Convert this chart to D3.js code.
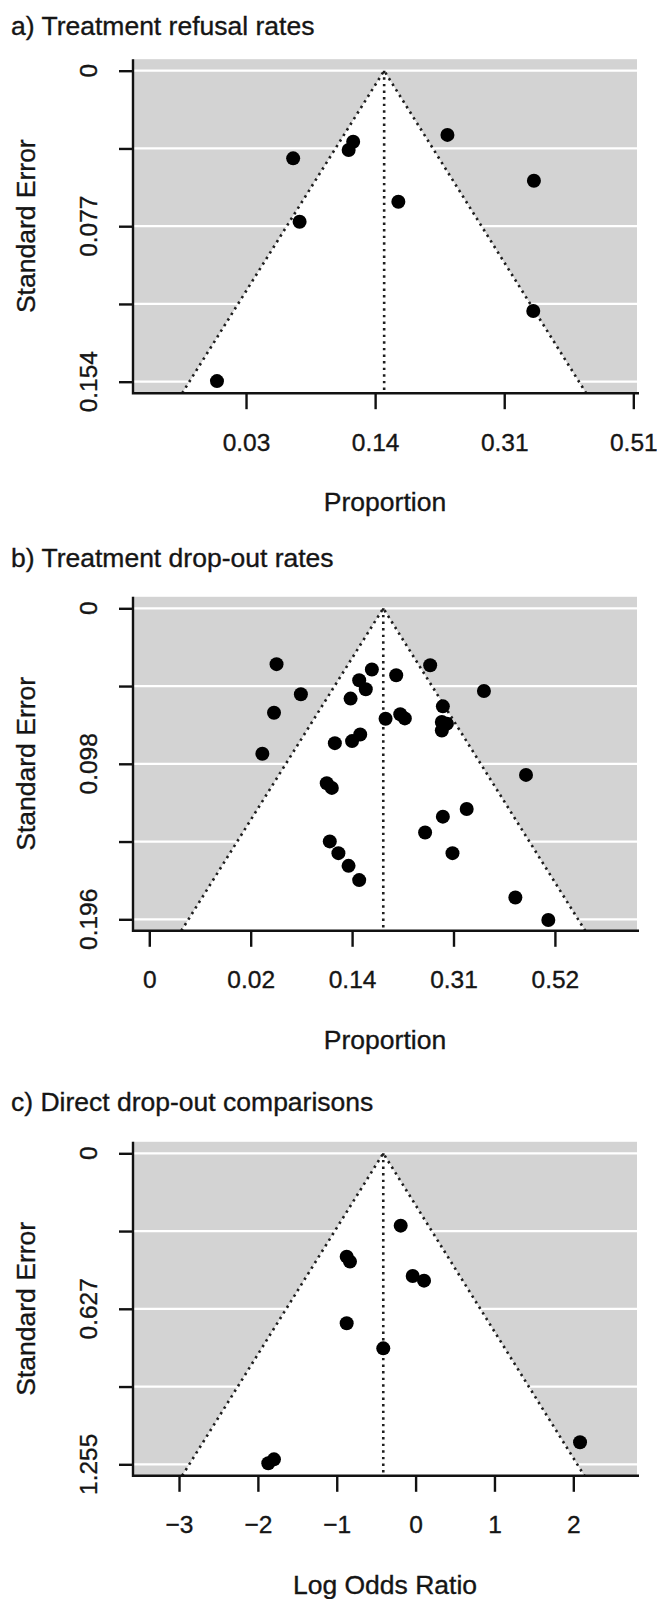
<!DOCTYPE html>
<html>
<head>
<meta charset="utf-8">
<script src="https://cdn.jsdelivr.net/npm/d3@7/dist/d3.min.js"></script>
<style>
  body { margin: 0; background: #fff; }
  svg text {
    font-family: "Liberation Sans", Arial, Helvetica, sans-serif;
    fill: #151515; stroke: #151515; stroke-width: 0.35px;
  }
</style>
</head>
<body>
<svg id="SVGfunnel" width="657" height="1599"></svg>
<script>
// a) treatment refusal: arcsine-transformed proportions and their standard errors
const refusalEffect = [0.273, 0.366, 0.359, 0.283, 0.155, 0.512, 0.646, 0.436, 0.645];
const refusalSE = [0.0434, 0.0352, 0.0393, 0.0748, 0.1537, 0.0318, 0.0545, 0.0649, 0.1190];
const refusalPooled = 0.414;
const refusalTicks = [0.2, 0.4, 0.6, 0.8];
const refusalTickLabels = ["0.03", "0.14", "0.31", "0.51"];
const refusalSELabels = ["0", "0.077", "0.154"];

// b) treatment drop-out: arcsine-transformed proportions and their standard errors
const dropoutEffect = [
    0.251, 0.299, 0.246, 0.223, 0.439, 0.414, 0.427, 0.397, 0.466, 0.366, 0.400,
    0.416, 0.350, 0.360, 0.356, 0.373, 0.393, 0.414, 0.487, 0.495, 0.504, 0.554,
    0.660, 0.579, 0.577, 0.587, 0.577, 0.743, 0.626, 0.579, 0.544, 0.598, 0.722, 0.787
];
const dropoutSE = [
    0.0352, 0.0542, 0.0658, 0.0917, 0.0386, 0.0453, 0.0510, 0.0569, 0.0696, 0.0850, 0.0837,
    0.0795, 0.1103, 0.1132, 0.1469, 0.1543, 0.1623, 0.1713, 0.0422, 0.0668, 0.0694, 0.0359,
    0.0521, 0.0618, 0.0717, 0.0727, 0.0770, 0.1050, 0.1265, 0.1313, 0.1413, 0.1543, 0.1823, 0.1964
];
const dropoutPooled = 0.4615;
const dropoutTicks = [0, 0.2, 0.4, 0.6, 0.8];
const dropoutTickLabels = ["0", "0.02", "0.14", "0.31", "0.52"];
const dropoutSELabels = ["0", "0.098", "0.196"];

// c) direct drop-out comparisons: log odds ratios and their standard errors
const comparisonLogOR = [-0.874, -0.832, -0.874, -0.410, -1.868, -1.796, -0.189, -0.037, 0.107, 2.085];
const comparisonSE = [0.417, 0.437, 0.686, 0.787, 1.251, 1.235, 0.292, 0.495, 0.514, 1.166];
const comparisonPooled = -0.41;
const comparisonTicks = [-3, -2, -1, 0, 1, 2];
const comparisonTickLabels = ["\u22123", "\u22122", "\u22121", "0", "1", "2"];
const comparisonSELabels = ["0", "0.627", "1.255"];

const panels = [
    {
        title: "a) Treatment refusal rates", xLabel: "Proportion",
        effect: refusalEffect, se: refusalSE, pooled: refusalPooled,
        xTicks: refusalTicks, xTickLabels: refusalTickLabels, seLabels: refusalSELabels,
        seMax: 0.154, xLim: [0.0249, 0.8057], top: 70.7, titleY: 35
    },
    {
        title: "b) Treatment drop-out rates", xLabel: "Proportion",
        effect: dropoutEffect, se: dropoutSE, pooled: dropoutPooled,
        xTicks: dropoutTicks, xTickLabels: dropoutTickLabels, seLabels: dropoutSELabels,
        seMax: 0.196, xLim: [-0.0321, 0.9619], top: 608.3, titleY: 567
    },
    {
        title: "c) Direct drop-out comparisons", xLabel: "Log Odds Ratio",
        effect: comparisonLogOR, se: comparisonSE, pooled: comparisonPooled,
        xTicks: comparisonTicks, xTickLabels: comparisonTickLabels, seLabels: comparisonSELabels,
        seMax: 1.255, xLim: [-3.5836, 2.8075], top: 1153.3, titleY: 1111
    }
];

const funnelPlot = {
    SVG: d3.select("#SVGfunnel"),
    left: 133,
    right: 637,
    /** pixel height from SE = 0 to SE = max */
    seHeight: 311,
    /** grey area spills a bit past 0 and max */
    ext: 11.5,
    render: p => {
        const { left, right, seHeight, ext } = funnelPlot;
        const x = d3.scaleLinear().domain(p.xLim).range([left, right]);
        const y = d3.scaleLinear().domain([0, p.seMax]).range([p.top, p.top + seHeight]);
        const bottom = p.top + seHeight + ext;
        const seBottom = y.invert(bottom);
        const seTicks = d3.range(5).map(i => p.seMax * i / 4);
        const g = funnelPlot.SVG.append("g");

        g.append("text")
            .attr("x", 11).attr("y", p.titleY)
            .style("font-size", "26.5px")
            .text(p.title);

        // grey background + white grid
        g.append("rect")
            .attr("x", left).attr("y", p.top - ext)
            .attr("width", right - left).attr("height", seHeight + 2 * ext)
            .attr("fill", "#d3d3d3");
        g.selectAll(".grid").data(seTicks).join("line")
            .attr("class", "grid")
            .attr("x1", left).attr("x2", right)
            .attr("y1", d => y(d)).attr("y2", d => y(d))
            .attr("stroke", "#fff").attr("stroke-width", 2.2);

        // pseudo confidence region
        const funnel = [
            [p.pooled - 1.96 * seBottom, seBottom],
            [p.pooled, 0],
            [p.pooled + 1.96 * seBottom, seBottom]
        ];
        const line = d3.line().x(d => x(d[0])).y(d => y(d[1]));
        g.append("path").attr("d", line(funnel) + "Z").attr("fill", "#fff");
        g.append("path").attr("d", line(funnel))
            .attr("fill", "none").attr("stroke", "#1e1e1e")
            .attr("stroke-width", 2.6).attr("stroke-dasharray", "2.4,4.2");
        g.append("line")
            .attr("x1", x(p.pooled)).attr("x2", x(p.pooled))
            .attr("y1", y(0)).attr("y2", bottom)
            .attr("stroke", "#1e1e1e")
            .attr("stroke-width", 2.6).attr("stroke-dasharray", "2.4,4.2");

        // studies
        g.selectAll(".study").data(d3.zip(p.effect, p.se)).join("circle")
            .attr("class", "study")
            .attr("cx", d => x(d[0])).attr("cy", d => y(d[1]))
            .attr("r", 7).attr("fill", "#000");

        // L-shaped frame
        g.append("path")
            .attr("d", `M${left},${p.top - ext}V${bottom}H${right + 2}`)
            .attr("fill", "none").attr("stroke", "#111").attr("stroke-width", 2.4);

        // y axis
        const yAxis = g.append("g")
            .attr("transform", `translate(${left},0)`)
            .call(d3.axisLeft(y).tickValues(seTicks).tickSize(14).tickFormat(""));
        yAxis.select(".domain").remove();
        yAxis.selectAll("line").attr("stroke", "#111").attr("stroke-width", 2.4);
        g.selectAll(".seLabel").data(p.seLabels).join("text")
            .attr("class", "seLabel")
            .attr("transform", (d, i) => `translate(97,${y(seTicks[i * 2])}) rotate(-90)`)
            .attr("text-anchor", "middle")
            .style("font-size", "24.5px")
            .text(d => d);
        g.append("text")
            .attr("transform", `translate(35,${y(p.seMax / 2)}) rotate(-90)`)
            .attr("text-anchor", "middle")
            .style("font-size", "26.5px")
            .text("Standard Error");

        // x axis
        const xAxis = g.append("g")
            .attr("transform", `translate(0,${bottom})`)
            .call(d3.axisBottom(x).tickValues(p.xTicks).tickSize(16).tickPadding(24)
                .tickFormat((d, i) => p.xTickLabels[i]));
        xAxis.select(".domain").remove();
        xAxis.selectAll("line").attr("stroke", "#111").attr("stroke-width", 2.4);
        xAxis.selectAll("text")
            .attr("fill", "#151515")
            .style("font-size", "24.5px")
            .style("font-family", "'Liberation Sans', Arial, sans-serif");
        g.append("text")
            .attr("x", (left + right) / 2).attr("y", bottom + 118)
            .attr("text-anchor", "middle")
            .style("font-size", "26.5px")
            .text(p.xLabel);
    }
};

panels.forEach(funnelPlot.render);
</script>
</body>
</html>
